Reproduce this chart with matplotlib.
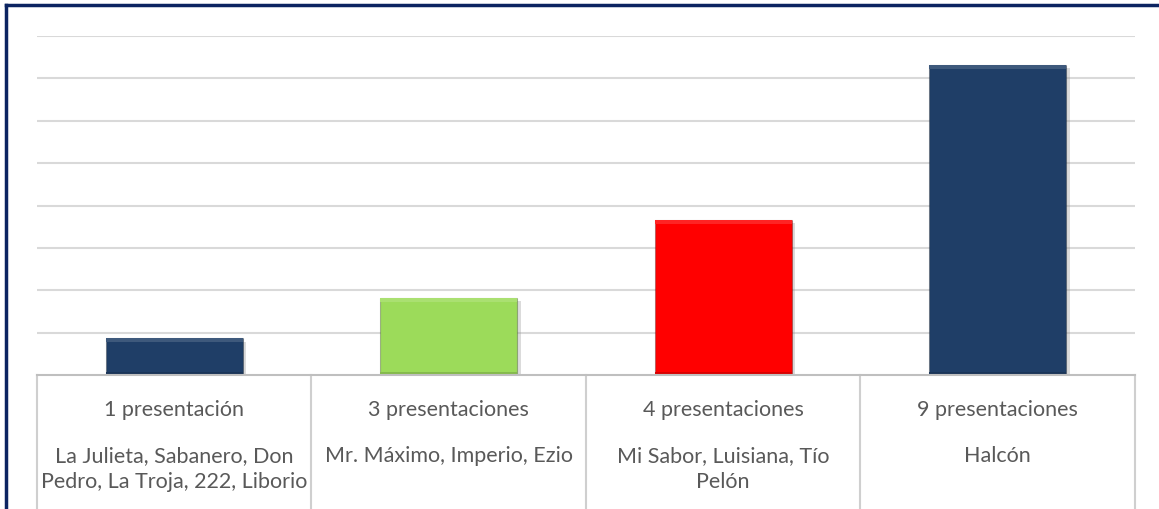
import matplotlib
matplotlib.use("Agg")
import matplotlib.pyplot as plt
import matplotlib.patheffects as pe
from matplotlib.colors import to_rgb
from matplotlib.lines import Line2D
from matplotlib.patches import Rectangle
from matplotlib.transforms import blended_transform_factory

# data
groups = ["1 presentación", "3 presentaciones", "4 presentaciones", "9 presentaciones"]
brands = ["La Julieta, Sabanero, Don\nPedro, La Troja, 222, Liborio",
          "Mr. Máximo, Imperio, Ezio",
          "Mi Sabor, Luisiana, Tío\nPelón",
          "Halcón"]
values = [0.87, 1.82, 3.66, 7.32]
colors = ["#1F3E67", "#9CDB5A", "#FF0000", "#1F3E67"]

plt.rcParams["font.family"] = ["Lato", "DejaVu Sans"]
text_color = "#595959"
grid_color = "#D9D9D9"

fig = plt.figure(figsize=(11.59, 5.10), dpi=100)
ax = fig.add_axes([37/1159, 1 - 376/510, (1135 - 37)/1159, (376 - 37)/510])

x = list(range(len(values)))
bars = ax.bar(x, values, width=0.5, color=colors, edgecolor="#00000040", linewidth=0.8, zorder=3)


def shade(c, f):
    r, g, b = to_rgb(c)
    if f > 0:
        return (r + (1 - r) * f, g + (1 - g) * f, b + (1 - b) * f)
    return (r * (1 + f), g * (1 + f), b * (1 + f))


# light bevel on top, darker rim at the bottom
for b, c in zip(bars, colors):
    b.set_path_effects([pe.SimplePatchShadow(offset=(2.5, -2.5), shadow_rgbFace="#999999", alpha=0.35),
                        pe.Normal()])
    h = b.get_height()
    ax.add_patch(Rectangle((b.get_x(), h - 0.1), b.get_width(), 0.1,
                           color=shade(c, 0.14), lw=0, zorder=4))
    ax.add_patch(Rectangle((b.get_x(), 0), b.get_width(), 0.08,
                           color=shade(c, -0.15), lw=0, zorder=4))

ax.set_xlim(-0.5, len(values) - 0.5)
ax.set_ylim(0, 8)
ax.set_yticks(range(1, 9))
ax.yaxis.grid(True, color=grid_color, linewidth=1.5)
ax.set_axisbelow(True)
ax.tick_params(left=False, bottom=False, labelleft=False, labelbottom=False)
for s in ax.spines.values():
    s.set_visible(False)

# category table under the bars
tr = blended_transform_factory(ax.transData, ax.transAxes)
depth = (510 - 376) / 339
ax.plot([-0.5, len(values) - 0.5], [0, 0], transform=tr, color="#BFBFBF", lw=1.5, clip_on=False, zorder=5)
for i in range(len(values) + 1):
    ax.plot([i - 0.5, i - 0.5], [0, -depth], transform=tr, color="#CFCFCF", lw=1.5, clip_on=False)
for i in x:
    ax.text(i, -(410 - 376) / 339, groups[i], transform=tr, ha="center", va="center",
            fontsize=15.5, color=text_color)
    ax.text(i, -(446 - 376) / 339, brands[i], transform=tr, ha="center", va="top",
            fontsize=15.5, color=text_color, linespacing=1.35)

# dark frame on top and left
fig.add_artist(Line2D([6/1159, 1], [1 - 6/510, 1 - 6/510], color="#0C2461", lw=2.5))
fig.add_artist(Line2D([6/1159, 6/1159], [0, 1 - 6/510], color="#0C2461", lw=2.5))

fig.savefig("out.png", dpi=100)
